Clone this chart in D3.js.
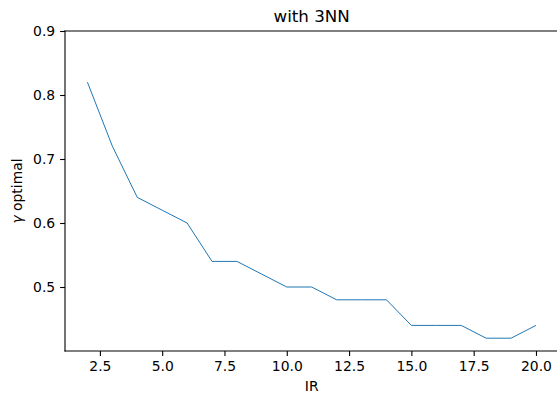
<!DOCTYPE html>
<html>
<head>
<meta charset="utf-8">
<script src="https://cdn.jsdelivr.net/npm/d3@7"></script>
<style>
	body { margin: 0; background: #fff; overflow: hidden; }
	svg { display: block; }
	text { font-family: 'DejaVu Sans', sans-serif; fill: #000; }
</style>
</head>
<body>
<div id="chart"></div>
<script>
var irValues = [2, 3, 4, 5, 6, 7, 8, 9, 10, 11, 12, 13, 14, 15, 16, 17, 18, 19, 20];
var gammaValues = [0.82, 0.72, 0.64, 0.62, 0.60, 0.54, 0.54, 0.52, 0.50, 0.50, 0.48, 0.48, 0.48, 0.44, 0.44, 0.44, 0.42, 0.42, 0.44];
var xTicks = [2.5, 5.0, 7.5, 10.0, 12.5, 15.0, 17.5, 20.0];
var yTicks = [0.5, 0.6, 0.7, 0.8, 0.9];

var w = 557;
var h = 394;
// the axes box runs a little past the right edge of the picture
var mLeft = 65, mRight = 558.4, mTop = 31, mBottom = 351;

var data = irValues.map(function (d, i) { return { ir: d, gamma: gammaValues[i] }; });

var x = d3.scaleLinear().domain([1.1, 20.9]).range([mLeft, mRight]);
var y = d3.scaleLinear().domain([0.4, 0.9]).range([mBottom, mTop]);

var svg = d3.select('#chart')
	.append('svg')
	.attr('width', w)
	.attr('height', h);

var line = d3.line()
	.x(function (d) { return x(d.ir); })
	.y(function (d) { return y(d.gamma); });

svg.append('path')
	.attr('d', line(data))
	.attr('fill', 'none')
	.attr('stroke', '#1f77b4')
	.attr('stroke-width', 1);

// axes
var xAxis = svg.append('g')
	.attr('transform', 'translate(0,' + mBottom + ')')
	.call(d3.axisBottom(x).tickValues(xTicks).tickFormat(d3.format('.1f')).tickSize(4.9).tickPadding(4.9));

var yAxis = svg.append('g')
	.attr('transform', 'translate(' + mLeft + ',0)')
	.call(d3.axisLeft(y).tickValues(yTicks).tickFormat(d3.format('.1f')).tickSize(4.9).tickPadding(4.9));

[xAxis, yAxis].forEach(function (g) {
	g.select('.domain').remove();
	g.selectAll('.tick line').attr('stroke', '#000').attr('stroke-width', 1.1);
	g.selectAll('.tick text').attr('font-size', '13.9px').attr('font-family', "'DejaVu Sans', sans-serif");
});

// spines: left, bottom, top (right one falls outside the picture)
var spines = [
	[mLeft, mTop, mLeft, mBottom],
	[mLeft, mBottom, w, mBottom],
	[mLeft, mTop, w, mTop]
];
svg.selectAll('line.spine')
	.data(spines)
	.enter()
	.append('line')
	.attr('class', 'spine')
	.attr('x1', function (d) { return d[0]; })
	.attr('y1', function (d) { return d[1]; })
	.attr('x2', function (d) { return d[2]; })
	.attr('y2', function (d) { return d[3]; })
	.attr('stroke', '#000')
	.attr('stroke-width', 1.1)
	.attr('stroke-linecap', 'square');

svg.append('text')
	.attr('x', (mLeft + mRight) / 2)
	.attr('y', 22)
	.attr('text-anchor', 'middle')
	.attr('font-size', '16.7px')
	.text('with 3NN');

svg.append('text')
	.attr('x', (mLeft + mRight) / 2)
	.attr('y', 391)
	.attr('text-anchor', 'middle')
	.attr('font-size', '13.9px')
	.text('IR');

var yLabel = svg.append('text')
	.attr('transform', 'translate(22,' + (mTop + mBottom) / 2 + ') rotate(-90)')
	.attr('text-anchor', 'middle')
	.attr('font-size', '13.9px');
yLabel.append('tspan').attr('font-style', 'italic').text('γ');
yLabel.append('tspan').text(' optimal');
</script>
</body>
</html>
